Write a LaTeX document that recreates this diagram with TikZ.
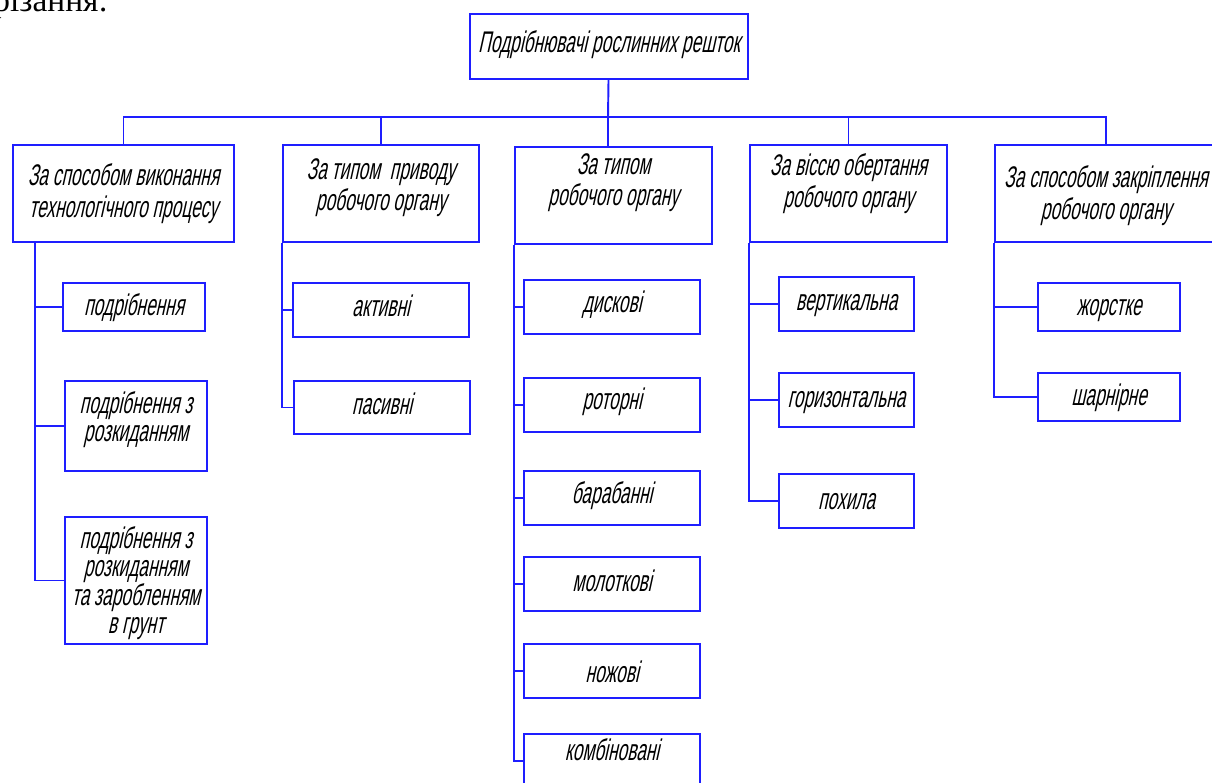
\documentclass[tikz,border=0pt]{standalone}
\usepackage{fontspec}
\usepackage{tikz}
\usetikzlibrary{positioning,calc}
\tikzset{every picture/.style={line width=1.1pt}}

\newfontfamily\gost[FakeStretch=0.58,FakeSlant=0.22]{Liberation Sans}
\newfontfamily\bodyserif{Liberation Serif}
\definecolor{lineblue}{RGB}{30,30,255}

% 1 px of the sheet
\newdimen\pxu \pxu=0.02cm
% width, height, top gap, text
\newcommand\boxtext[4]{\parbox[t][#2\pxu][t]{#1\pxu}{\centering\vspace*{#3\pxu}\rule{0pt}{12pt}#4\par}}

\tikzset{
  hbox/.style={draw=lineblue, inner sep=0pt, anchor=north west, font={\gost\fontsize{17}{18}\selectfont}},
  ibox/.style={hbox, font={\gost\fontsize{17}{15.5}\selectfont}},
  link/.style={draw=lineblue}
}

\begin{document}
\begin{tikzpicture}[x=0.02cm,y=-0.02cm]
    \useasboundingbox (0,0) rectangle (1212,783);
    \clip (0,0) rectangle (1212,783);

    % рядок тексту над схемою
    \node[anchor=base west, inner sep=0pt, font={\bodyserif\fontsize{19}{22}\selectfont}] (prev) at (-7.5,12) {різання:};

    % корінь
    \node[hbox] (root) at (469,13) {\boxtext{278}{65}{17}{Подрібнювачі рослинних решток}};

    % ознаки
    \node[hbox] (k1) at (12,144) {\boxtext{221}{97}{19}{За способом виконання\\технологічного процесу}};
    \node[hbox] (k2) at (282,144) {\boxtext{196}{97}{13}{За типом~ приводу\\робочого органу}};
    \node[hbox] (k3) at (514,146) {\boxtext{197}{97}{6}{За типом\\робочого органу}};
    \node[hbox] (k4) at (749,144) {\boxtext{197}{97}{9}{За віссю обертання\\робочого органу}};
    \node[hbox] (k5) at (994,144) {\boxtext{222}{97}{21}{За способом закріплення\\робочого органу}};

    % шина
    \coordinate (bus) at (608,117);
    \draw[link] (root) -- (bus);
    \draw[link] (bus) -| (k1);
    \draw[link] (bus) -| (k2);
    \draw[link] (bus) -- (bus |- k3.north);
    \draw[link] (bus) -| (k4);
    \draw[link] (bus) -| (k5);

    % за способом виконання
    \node[ibox] (s11) at (62,282) {\boxtext{142}{48}{11}{подрібнення}};
    \node[ibox] (s12) at (64,380) {\boxtext{142}{90}{11}{подрібнення з\\розкиданням}};
    \node[ibox] (s13) at (64,516) {\boxtext{142}{127}{10}{подрібнення з\\розкиданням\\та заробленням\\в грунт}};
    \draw[link] ([xshift=23\pxu]k1.south west) |- (s11);
    \draw[link] ([xshift=23\pxu]k1.south west) |- (s12);
    \draw[link] ([xshift=23\pxu]k1.south west) |- (s13);

    % за типом приводу
    \node[ibox] (a1) at (292,282) {\boxtext{176}{54}{12}{активні}};
    \node[ibox] (a2) at (293,380) {\boxtext{176}{53}{12}{пасивні}};
    \draw[link] (k2.south west) |- (a1);
    \draw[link] (k2.south west) |- (a2);

    % за типом робочого органу
    \node[ibox] (t1) at (523,279) {\boxtext{176}{54}{11}{дискові}};
    \node[ibox] (t2) at (523,377) {\boxtext{176}{54}{10}{роторні}};
    \node[ibox] (t3) at (523,470) {\boxtext{176}{54}{11}{барабанні}};
    \node[ibox] (t4) at (523,556) {\boxtext{176}{54}{13}{молоткові}};
    \node[ibox] (t5) at (523,643) {\boxtext{176}{54}{17}{ножові}};
    \node[ibox] (t6) at (523,733) {\boxtext{176}{54}{5}{комбіновані}};
    \draw[link] (k3.south west) |- (t1);
    \draw[link] (k3.south west) |- (t2);
    \draw[link] (k3.south west) |- (t3);
    \draw[link] (k3.south west) |- (t4);
    \draw[link] (k3.south west) |- (t5);
    \draw[link] (k3.south west) |- (t6);

    % за віссю обертання
    \node[ibox] (v1) at (778,276) {\boxtext{135}{54}{12}{вертикальна}};
    \node[ibox] (v2) at (778,372) {\boxtext{135}{54}{13}{горизонтальна}};
    \node[ibox] (v3) at (778,473) {\boxtext{135}{54}{14}{похила}};
    \draw[link] (k4.south west) |- (v1);
    \draw[link] (k4.south west) |- (v2);
    \draw[link] (k4.south west) |- (v3);

    % за способом закріплення
    \node[ibox] (z1) at (1037,282) {\boxtext{142}{48}{11}{жорстке}};
    \node[ibox] (z2) at (1037,372) {\boxtext{142}{48}{11}{шарнірне}};
    \draw[link] (k5.south west) |- (z1);
    \draw[link] (k5.south west) |- (z2);
\end{tikzpicture}
\end{document}
